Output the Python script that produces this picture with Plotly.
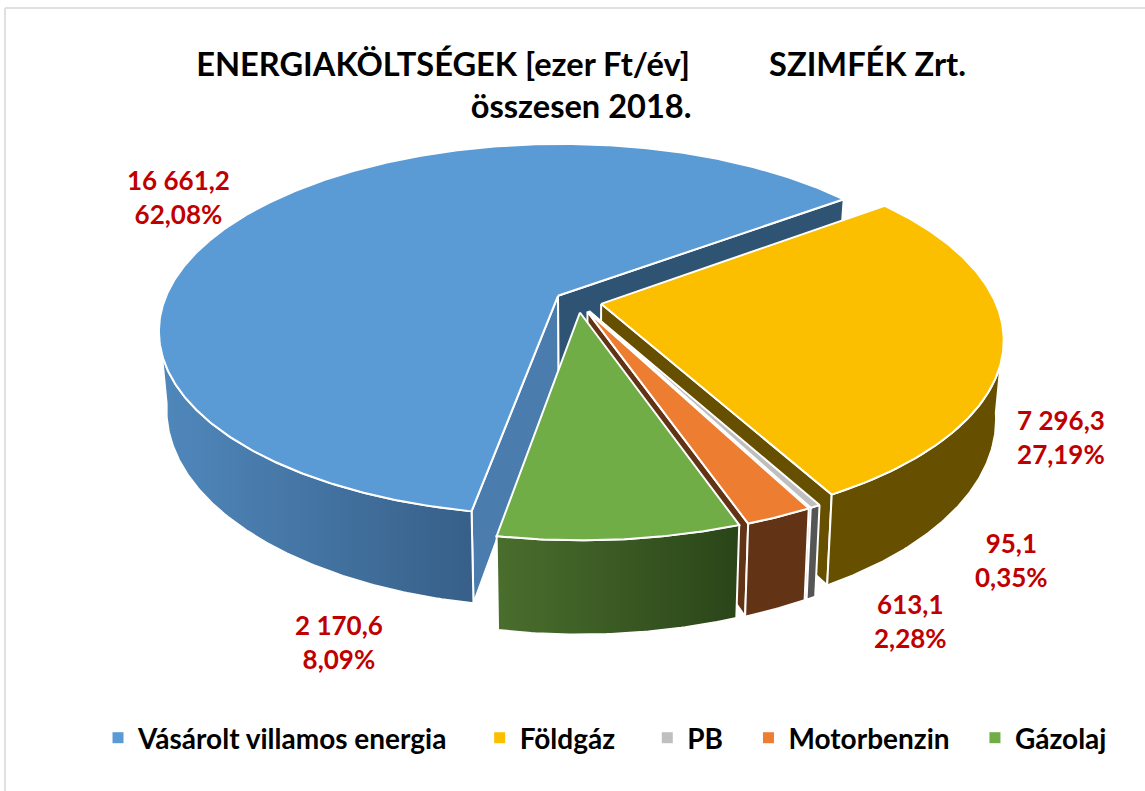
import math
import plotly.graph_objects as go

# ---- data ----
CATEGORIES = ["Vásárolt villamos energia", "Földgáz", "PB", "Motorbenzin", "Gázolaj"]
VALUES = [16661.2, 7296.3, 95.1, 613.1, 2170.6]
VALUE_LABELS = ["16 661,2", "7 296,3", "95,1", "613,1", "2 170,6"]
PERCENT_LABELS = ["62,08%", "27,19%", "0,35%", "2,28%", "8,09%"]
TITLE_LINE_1 = "ENERGIAKÖLTSÉGEK [ezer Ft/év]" + "\u00a0" * 10 + "SZIMFÉK Zrt."
TITLE_LINE_2 = "összesen 2018."

# ---- styles ----
TOP_COLORS = ["#5B9BD5", "#FBBF00", "#BFBFBF", "#ED7D31", "#70AD47"]
WALL_COLORS = [("#5088BC", "#375F88"), ("#665000", "#665000"), ("#555555", "#555555"),
               ("#633316", "#633316"), ("#4A6E2D", "#2A4519")]
END_FACE_COLORS = ["#2F5373", "#665000", "#666666", "#633316", "#2A4519"]
START_FACE_COLOR = "#4A7DAD"
LABEL_POS = [(178, 197), (1061, 437), (1011, 560), (910, 621), (339, 642)]
LEGEND_PAD = [4, 4, 3, 3, 0]   # spacing between legend entries, in non-breaking spaces
LABEL_RED = "#C00000"
FONT = "Lato"

# ---- 3D projection settings (pixels) ----
FIRST_ANGLE = 189.9   # degrees clockwise from the back of the pie
EXPLODE = 0.06
CX, CY = 578, 301.5
RX, RY, PERSP = 394, 181.6, 0.183
DEPTH, BOTTOM_SCALE = 76, 0.982
W_FROM, W_TO = 99.3, 260.7   # arc of the rim whose wall faces the viewer


def project(u, v, bottom=False):
    d = 1 - PERSP * v
    sx = RX * u / d
    sy = RY * v / d
    if bottom:
        return CX + sx * BOTTOM_SCALE, CY + sy + DEPTH / d
    return CX + sx, CY + sy


def rim(theta, off, bottom=False):
    t = math.radians(theta)
    return project(math.sin(t) + off[0], -math.cos(t) + off[1], bottom)


def arc(a0, a1, off, bottom=False):
    n = max(2, int(abs(a1 - a0) * 2))
    return [rim(a0 + (a1 - a0) * i / n, off, bottom) for i in range(n + 1)]


def poly(fig, pts, color=None, grad=None):
    xs = [p[0] for p in pts] + [pts[0][0]]
    ys = [p[1] for p in pts] + [pts[0][1]]
    kw = dict(x=xs, y=ys, mode="lines", fill="toself", showlegend=False, hoverinfo="skip",
              line=dict(color="white", width=2))
    if grad and grad[0] != grad[1]:
        kw["fillgradient"] = dict(type="horizontal", colorscale=[[0, grad[0]], [1, grad[1]]])
    else:
        kw["fillcolor"] = color
    fig.add_trace(go.Scatter(**kw))


fig = go.Figure()
total = sum(VALUES)
start = FIRST_ANGLE
for i, val in enumerate(VALUES):
    sweep = val / total * 360
    end = start + sweep
    mid = math.radians(start + sweep / 2)
    off = (EXPLODE * math.sin(mid), -EXPLODE * math.cos(mid))
    apex_top = project(off[0], off[1])
    apex_bot = project(off[0], off[1], True)
    # cut face at the clockwise end of the slice
    if i != len(VALUES) - 1:
        poly(fig, [apex_top, rim(end, off), rim(end, off, True), apex_bot], END_FACE_COLORS[i])
    # cut face at the clockwise start, visible only for the large slice
    if i == 0:
        poly(fig, [apex_top, rim(start, off), rim(start, off, True), apex_bot], START_FACE_COLOR)
    # outer wall: only the part of the rim that faces the viewer
    s = start % 360
    a0, a1 = max(s, W_FROM), min(s + sweep, W_TO)
    if a1 > a0:
        poly(fig, arc(a0, a1, off) + arc(a1, a0, off, True), WALL_COLORS[i][0], WALL_COLORS[i])
    # top
    poly(fig, [apex_top] + arc(start, end, off), TOP_COLORS[i])
    start = end

# legend entries
for name, color, pad in zip(CATEGORIES, TOP_COLORS, LEGEND_PAD):
    fig.add_trace(go.Scatter(x=[None], y=[None], mode="markers", name=name + "\u00a0" * pad,
                             marker=dict(symbol="square", size=11, color=color)))

annotations = []
for (x, y), v, p in zip(LABEL_POS, VALUE_LABELS, PERCENT_LABELS):
    annotations.append(dict(x=x, y=y, xref="x", yref="y", showarrow=False,
                            text=f"{v}<br>{p}",
                            font=dict(family=FONT, size=26, color=LABEL_RED, weight="bold")))

fig.update_layout(
    width=1145, height=791, autosize=False,
    margin=dict(l=0, r=0, t=0, b=0, autoexpand=False),
    paper_bgcolor="white", plot_bgcolor="white",
    title=dict(text=f"{TITLE_LINE_1}<br>{TITLE_LINE_2}", x=0.5075, xanchor="center",
               y=0.904, yanchor="middle",
               font=dict(family=FONT, size=32.6, color="#000000", weight="bold")),
    xaxis=dict(range=[0, 1145], visible=False, fixedrange=True, automargin=False),
    yaxis=dict(range=[791, 0], visible=False, fixedrange=True, automargin=False),
    legend=dict(orientation="h", x=0.0856, xanchor="left", y=0.067, yanchor="middle",
                font=dict(family=FONT, size=28, color="#000000", weight="bold"),
                itemclick=False, itemdoubleclick=False),
    annotations=annotations,
    shapes=[
        dict(type="line", xref="paper", yref="paper", x0=5 / 1145, x1=5 / 1145, y0=0, y1=1 - 8 / 791,
             line=dict(color="#E0E0E0", width=2)),
        dict(type="line", xref="paper", yref="paper", x0=5 / 1145, x1=1, y0=1 - 8 / 791, y1=1 - 8 / 791,
             line=dict(color="#E0E0E0", width=2)),
    ],
)

fig.write_html("out.html", config={"displayModeBar": False},
               post_script="document.body.style.margin='0';")
